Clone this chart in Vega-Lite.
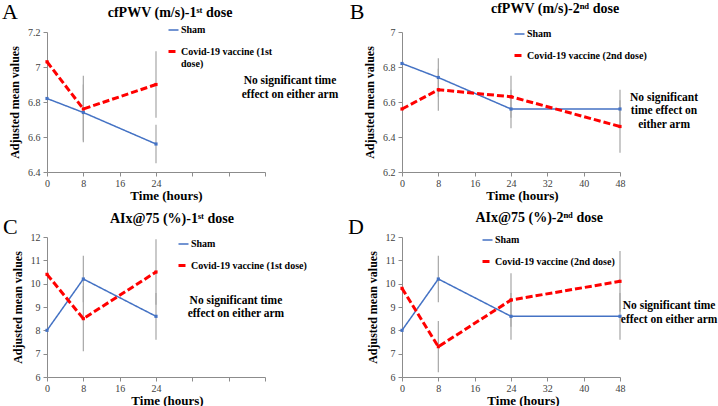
{
  "$schema": "https://vega.github.io/schema/vega-lite/v6.json",
  "padding": {"left": 2, "top": 1, "right": 0, "bottom": 0},
  "config": {
    "font": "Liberation Serif",
    "view": {"stroke": null},
    "axis": {"grid": false, "domainColor": "#8c8c8c", "tickColor": "#8c8c8c", "labelColor": "#404040", "labelFont": "Liberation Serif", "labelFontSize": 10, "titleFont": "Liberation Serif", "titleFontSize": 13, "titleFontWeight": "bold", "titleColor": "#000000", "tickSize": 4, "labelOverlap": false, "tickCount": 20},
    "legend": {"labelFont": "Liberation Serif", "labelFontWeight": "bold", "labelFontSize": 10, "labelColor": "#000000", "symbolType": "stroke", "symbolSize": 100, "rowPadding": 10, "padding": 0, "labelOffset": 1, "title": null, "orient": "none"},
    "text": {"font": "Liberation Serif", "color": "#000000"}
  },
  "datasets": {
    "lines": [
      {"panel": "A", "series": "Sham", "time": 0, "mean": 6.82, "lo": null, "hi": null},
      {"panel": "A", "series": "Sham", "time": 8, "mean": 6.74, "lo": 6.58, "hi": 6.90},
      {"panel": "A", "series": "Sham", "time": 24, "mean": 6.56, "lo": 6.45, "hi": 6.67},
      {"panel": "A", "series": "Covid-19 vaccine (1st dose)", "time": 0, "mean": 7.03, "lo": null, "hi": null},
      {"panel": "A", "series": "Covid-19 vaccine (1st dose)", "time": 8, "mean": 6.76, "lo": 6.57, "hi": 6.95},
      {"panel": "A", "series": "Covid-19 vaccine (1st dose)", "time": 24, "mean": 6.90, "lo": 6.71, "hi": 7.09},
      {"panel": "B", "series": "Sham", "time": 0, "mean": 6.82, "lo": null, "hi": null},
      {"panel": "B", "series": "Sham", "time": 8, "mean": 6.74, "lo": 6.63, "hi": 6.85},
      {"panel": "B", "series": "Sham", "time": 24, "mean": 6.56, "lo": 6.45, "hi": 6.67},
      {"panel": "B", "series": "Sham", "time": 48, "mean": 6.56, "lo": 6.45, "hi": 6.67},
      {"panel": "B", "series": "Covid-19 vaccine (2nd dose)", "time": 0, "mean": 6.56, "lo": null, "hi": null},
      {"panel": "B", "series": "Covid-19 vaccine (2nd dose)", "time": 8, "mean": 6.67, "lo": 6.55, "hi": 6.79},
      {"panel": "B", "series": "Covid-19 vaccine (2nd dose)", "time": 24, "mean": 6.63, "lo": 6.51, "hi": 6.75},
      {"panel": "B", "series": "Covid-19 vaccine (2nd dose)", "time": 48, "mean": 6.46, "lo": 6.31, "hi": 6.61},
      {"panel": "C", "series": "Sham", "time": 0, "mean": 8.0, "lo": null, "hi": null},
      {"panel": "C", "series": "Sham", "time": 8, "mean": 10.2, "lo": 9.2, "hi": 11.2},
      {"panel": "C", "series": "Sham", "time": 24, "mean": 8.6, "lo": 7.6, "hi": 9.6},
      {"panel": "C", "series": "Covid-19 vaccine (1st dose)", "time": 0, "mean": 10.4, "lo": null, "hi": null},
      {"panel": "C", "series": "Covid-19 vaccine (1st dose)", "time": 8, "mean": 8.5, "lo": 7.1, "hi": 9.9},
      {"panel": "C", "series": "Covid-19 vaccine (1st dose)", "time": 24, "mean": 10.5, "lo": 9.1, "hi": 11.9},
      {"panel": "D", "series": "Sham", "time": 0, "mean": 8.0, "lo": null, "hi": null},
      {"panel": "D", "series": "Sham", "time": 8, "mean": 10.2, "lo": 9.2, "hi": 11.2},
      {"panel": "D", "series": "Sham", "time": 24, "mean": 8.6, "lo": 7.6, "hi": 9.6},
      {"panel": "D", "series": "Sham", "time": 48, "mean": 8.6, "lo": 7.6, "hi": 9.6},
      {"panel": "D", "series": "Covid-19 vaccine (2nd dose)", "time": 0, "mean": 9.8, "lo": null, "hi": null},
      {"panel": "D", "series": "Covid-19 vaccine (2nd dose)", "time": 8, "mean": 7.3, "lo": 6.2, "hi": 8.4},
      {"panel": "D", "series": "Covid-19 vaccine (2nd dose)", "time": 24, "mean": 9.3, "lo": 8.15, "hi": 10.45},
      {"panel": "D", "series": "Covid-19 vaccine (2nd dose)", "time": 48, "mean": 10.1, "lo": 8.8, "hi": 11.4}
    ]
  },
  "columns": 2,
  "spacing": {"row": 65, "column": 137},
  "bounds": "flush",
  "resolve": {
    "scale": {"x": "independent", "y": "independent", "color": "independent", "strokeDash": "independent", "strokeWidth": "independent", "fill": "independent"},
    "legend": {"color": "independent", "strokeDash": "independent", "strokeWidth": "independent"}
  },
  "concat": [
    {
      "width": 218, "height": 140,
      "layer": [
        {
          "data": {"name": "lines"},
          "transform": [{"filter": "datum.panel === 'A' && isValid(datum.lo)"}],
          "mark": {"type": "rule", "color": "#A6A6A6", "strokeWidth": 1.2},
          "encoding": {
            "x": {"field": "time", "type": "quantitative", "scale": {"domain": [0, 48], "nice": false}, "axis": {"title": "Time (hours)", "values": [0, 8, 16, 24, 32, 40, 48], "tickCount": 20, "labelExpr": "datum.value <= 24 ? datum.label : ''", "labelPadding": 2, "titlePadding": 1, "titleX": 119, "labelFlush": false, "labelOverlap": false}},
            "y": {"field": "lo", "type": "quantitative", "title": "Adjusted mean values", "scale": {"domain": [6.4, 7.2], "nice": false, "zero": false}, "axis": {"values": [6.4, 6.6, 6.8, 7.0, 7.2], "tickCount": 20, "format": "~g", "titleFontSize": 12, "titlePadding": 6, "labelPadding": 3, "labelOverlap": false}},
            "y2": {"field": "hi"}
          }
        },
        {
          "data": {"name": "lines"},
          "transform": [{"filter": "datum.panel === 'A'"}],
          "mark": {"type": "line"},
          "encoding": {
            "x": {"field": "time", "type": "quantitative", "title": "Time (hours)"},
            "y": {"field": "mean", "type": "quantitative", "title": "Adjusted mean values"},
            "color": {"field": "series", "type": "nominal", "scale": {"domain": ["Sham", "Covid-19 vaccine (1st dose)"], "range": ["#4472C4", "#FF0000"]}, "legend": {"legendX": 120, "legendY": -8, "labelExpr": "indexof(datum.label, '1st') > 0 ? ['Covid-19 vaccine (1st', 'dose)'] : datum.label"}},
            "strokeDash": {"field": "series", "type": "nominal", "scale": {"domain": ["Sham", "Covid-19 vaccine (1st dose)"], "range": [[1, 0], [7, 3]]}, "legend": {"legendX": 120, "legendY": -8, "labelExpr": "indexof(datum.label, '1st') > 0 ? ['Covid-19 vaccine (1st', 'dose)'] : datum.label"}},
            "strokeWidth": {"field": "series", "type": "nominal", "scale": {"domain": ["Sham", "Covid-19 vaccine (1st dose)"], "range": [1.5, 3]}, "legend": {"legendX": 120, "legendY": -8, "labelExpr": "indexof(datum.label, '1st') > 0 ? ['Covid-19 vaccine (1st', 'dose)'] : datum.label"}}
          }
        },
        {
          "data": {"name": "lines"},
          "transform": [{"filter": "datum.panel === 'A'"}],
          "mark": {"type": "point", "filled": true, "shape": "square", "size": 10, "opacity": 1},
          "encoding": {
            "x": {"field": "time", "type": "quantitative", "title": "Time (hours)"},
            "y": {"field": "mean", "type": "quantitative", "title": "Adjusted mean values"},
            "fill": {"field": "series", "type": "nominal", "scale": {"domain": ["Sham", "Covid-19 vaccine (1st dose)"], "range": ["#4472C4", "#FF0000"]}, "legend": null}
          }
        },
        {
          "data": {"values": [{"note": "x"}]},
          "mark": {"type": "text", "text": ["No significant time", "effect on either arm"], "fontSize": 11.5, "fontWeight": "bold", "align": "center", "baseline": "middle", "lineHeight": 13.5},
          "encoding": {"x": {"datum": 53.5, "type": "quantitative"}, "y": {"datum": 6.92, "type": "quantitative"}}
        },
        {
          "data": {"values": [{"note": "x"}]},
          "mark": {"type": "text", "text": "A", "fontSize": 22, "align": "left", "baseline": "alphabetic"},
          "encoding": {"x": {"datum": -9.9, "type": "quantitative"}, "y": {"datum": 7.274, "type": "quantitative"}}
        },
        {
          "data": {"values": [{"note": "x"}]},
          "mark": {"type": "text", "text": "cfPWV (m/s)-1ˢᵗ dose", "fontSize": 14, "fontWeight": "bold", "align": "center", "baseline": "alphabetic"},
          "encoding": {"x": {"datum": 27.1, "type": "quantitative"}, "y": {"datum": 7.286, "type": "quantitative"}}
        }
      ]
    },
    {
      "width": 218, "height": 140,
      "layer": [
        {
          "data": {"name": "lines"},
          "transform": [{"filter": "datum.panel === 'B' && isValid(datum.lo)"}],
          "mark": {"type": "rule", "color": "#A6A6A6", "strokeWidth": 1.2},
          "encoding": {
            "x": {"field": "time", "type": "quantitative", "scale": {"domain": [0, 48], "nice": false}, "axis": {"title": "Time (hours)", "values": [0, 8, 16, 24, 32, 40, 48], "tickCount": 20, "labelPadding": 2, "titlePadding": 1, "titleX": 120, "labelFlush": false, "labelOverlap": false}},
            "y": {"field": "lo", "type": "quantitative", "title": "Adjusted mean values", "scale": {"domain": [6.2, 7.0], "nice": false, "zero": false}, "axis": {"values": [6.2, 6.4, 6.6, 6.8, 7.0], "tickCount": 20, "format": "~g", "titleFontSize": 12, "titlePadding": 6, "labelPadding": 3, "labelOverlap": false}},
            "y2": {"field": "hi"}
          }
        },
        {
          "data": {"name": "lines"},
          "transform": [{"filter": "datum.panel === 'B'"}],
          "mark": {"type": "line"},
          "encoding": {
            "x": {"field": "time", "type": "quantitative", "title": "Time (hours)"},
            "y": {"field": "mean", "type": "quantitative", "title": "Adjusted mean values"},
            "color": {"field": "series", "type": "nominal", "scale": {"domain": ["Sham", "Covid-19 vaccine (2nd dose)"], "range": ["#4472C4", "#FF0000"]}, "legend": {"legendX": 111, "legendY": -4}},
            "strokeDash": {"field": "series", "type": "nominal", "scale": {"domain": ["Sham", "Covid-19 vaccine (2nd dose)"], "range": [[1, 0], [7, 3]]}, "legend": {"legendX": 111, "legendY": -4}},
            "strokeWidth": {"field": "series", "type": "nominal", "scale": {"domain": ["Sham", "Covid-19 vaccine (2nd dose)"], "range": [1.5, 3]}, "legend": {"legendX": 111, "legendY": -4}}
          }
        },
        {
          "data": {"name": "lines"},
          "transform": [{"filter": "datum.panel === 'B'"}],
          "mark": {"type": "point", "filled": true, "shape": "square", "size": 10, "opacity": 1},
          "encoding": {
            "x": {"field": "time", "type": "quantitative", "title": "Time (hours)"},
            "y": {"field": "mean", "type": "quantitative", "title": "Adjusted mean values"},
            "fill": {"field": "series", "type": "nominal", "scale": {"domain": ["Sham", "Covid-19 vaccine (2nd dose)"], "range": ["#4472C4", "#FF0000"]}, "legend": null}
          }
        },
        {
          "data": {"values": [{"note": "x"}]},
          "mark": {"type": "text", "text": ["No significant", "time effect on", "either arm"], "fontSize": 11.5, "fontWeight": "bold", "align": "center", "baseline": "middle", "lineHeight": 13.5},
          "encoding": {"x": {"datum": 57.7, "type": "quantitative"}, "y": {"datum": 6.623, "type": "quantitative"}}
        },
        {
          "data": {"values": [{"note": "x"}]},
          "mark": {"type": "text", "text": "B", "fontSize": 22, "align": "left", "baseline": "alphabetic"},
          "encoding": {"x": {"datum": -11.5, "type": "quantitative"}, "y": {"datum": 7.074, "type": "quantitative"}}
        },
        {
          "data": {"values": [{"note": "x"}]},
          "mark": {"type": "text", "text": "cfPWV (m/s)-2ⁿᵈ dose", "fontSize": 14, "fontWeight": "bold", "align": "center", "baseline": "alphabetic"},
          "encoding": {"x": {"datum": 33.7, "type": "quantitative"}, "y": {"datum": 7.109, "type": "quantitative"}}
        }
      ]
    },
    {
      "width": 218, "height": 140,
      "layer": [
        {
          "data": {"name": "lines"},
          "transform": [{"filter": "datum.panel === 'C' && isValid(datum.lo)"}],
          "mark": {"type": "rule", "color": "#A6A6A6", "strokeWidth": 1.2},
          "encoding": {
            "x": {"field": "time", "type": "quantitative", "scale": {"domain": [0, 48], "nice": false}, "axis": {"title": "Time (hours)", "values": [0, 8, 16, 24, 32, 40, 48], "tickCount": 20, "labelExpr": "datum.value <= 24 ? datum.label : ''", "labelPadding": 2, "titlePadding": 1, "titleX": 120, "labelFlush": false, "labelOverlap": false}},
            "y": {"field": "lo", "type": "quantitative", "title": "Adjusted mean values", "scale": {"domain": [6, 12], "nice": false, "zero": false}, "axis": {"values": [6, 7, 8, 9, 10, 11, 12], "tickCount": 20, "format": "~g", "titleFontSize": 12, "titlePadding": 6, "labelPadding": 3, "labelOverlap": false}},
            "y2": {"field": "hi"}
          }
        },
        {
          "data": {"name": "lines"},
          "transform": [{"filter": "datum.panel === 'C'"}],
          "mark": {"type": "line"},
          "encoding": {
            "x": {"field": "time", "type": "quantitative", "title": "Time (hours)"},
            "y": {"field": "mean", "type": "quantitative", "title": "Adjusted mean values"},
            "color": {"field": "series", "type": "nominal", "scale": {"domain": ["Sham", "Covid-19 vaccine (1st dose)"], "range": ["#4472C4", "#FF0000"]}, "legend": {"legendX": 130, "legendY": 1}},
            "strokeDash": {"field": "series", "type": "nominal", "scale": {"domain": ["Sham", "Covid-19 vaccine (1st dose)"], "range": [[1, 0], [7, 3]]}, "legend": {"legendX": 130, "legendY": 1}},
            "strokeWidth": {"field": "series", "type": "nominal", "scale": {"domain": ["Sham", "Covid-19 vaccine (1st dose)"], "range": [1.5, 3]}, "legend": {"legendX": 130, "legendY": 1}}
          }
        },
        {
          "data": {"name": "lines"},
          "transform": [{"filter": "datum.panel === 'C'"}],
          "mark": {"type": "point", "filled": true, "shape": "square", "size": 10, "opacity": 1},
          "encoding": {
            "x": {"field": "time", "type": "quantitative", "title": "Time (hours)"},
            "y": {"field": "mean", "type": "quantitative", "title": "Adjusted mean values"},
            "fill": {"field": "series", "type": "nominal", "scale": {"domain": ["Sham", "Covid-19 vaccine (1st dose)"], "range": ["#4472C4", "#FF0000"]}, "legend": null}
          }
        },
        {
          "data": {"values": [{"note": "x"}]},
          "mark": {"type": "text", "text": ["No significant time", "effect on either arm"], "fontSize": 11.5, "fontWeight": "bold", "align": "center", "baseline": "middle", "lineHeight": 13.5},
          "encoding": {"x": {"datum": 41.6, "type": "quantitative"}, "y": {"datum": 9.26, "type": "quantitative"}}
        },
        {
          "data": {"values": [{"note": "x"}]},
          "mark": {"type": "text", "text": "C", "fontSize": 22, "align": "left", "baseline": "alphabetic"},
          "encoding": {"x": {"datum": -9.7, "type": "quantitative"}, "y": {"datum": 12.13, "type": "quantitative"}}
        },
        {
          "data": {"values": [{"note": "x"}]},
          "mark": {"type": "text", "text": "AIx@75 (%)-1ˢᵗ dose", "fontSize": 14, "fontWeight": "bold", "align": "center", "baseline": "alphabetic"},
          "encoding": {"x": {"datum": 27.5, "type": "quantitative"}, "y": {"datum": 12.6, "type": "quantitative"}}
        }
      ]
    },
    {
      "width": 218, "height": 140,
      "layer": [
        {
          "data": {"name": "lines"},
          "transform": [{"filter": "datum.panel === 'D' && isValid(datum.lo)"}],
          "mark": {"type": "rule", "color": "#A6A6A6", "strokeWidth": 1.2},
          "encoding": {
            "x": {"field": "time", "type": "quantitative", "scale": {"domain": [0, 48], "nice": false}, "axis": {"title": "Time (hours)", "values": [0, 8, 16, 24, 32, 40, 48], "tickCount": 20, "labelPadding": 2, "titlePadding": 1, "titleX": 121, "labelFlush": false, "labelOverlap": false}},
            "y": {"field": "lo", "type": "quantitative", "title": "Adjusted mean values", "scale": {"domain": [6, 12], "nice": false, "zero": false}, "axis": {"values": [6, 7, 8, 9, 10, 11, 12], "tickCount": 20, "format": "~g", "titleFontSize": 12, "titlePadding": 6, "labelPadding": 3, "labelOverlap": false}},
            "y2": {"field": "hi"}
          }
        },
        {
          "data": {"name": "lines"},
          "transform": [{"filter": "datum.panel === 'D'"}],
          "mark": {"type": "line"},
          "encoding": {
            "x": {"field": "time", "type": "quantitative", "title": "Time (hours)"},
            "y": {"field": "mean", "type": "quantitative", "title": "Adjusted mean values"},
            "color": {"field": "series", "type": "nominal", "scale": {"domain": ["Sham", "Covid-19 vaccine (2nd dose)"], "range": ["#4472C4", "#FF0000"]}, "legend": {"legendX": 79, "legendY": -3}},
            "strokeDash": {"field": "series", "type": "nominal", "scale": {"domain": ["Sham", "Covid-19 vaccine (2nd dose)"], "range": [[1, 0], [7, 3]]}, "legend": {"legendX": 79, "legendY": -3}},
            "strokeWidth": {"field": "series", "type": "nominal", "scale": {"domain": ["Sham", "Covid-19 vaccine (2nd dose)"], "range": [1.5, 3]}, "legend": {"legendX": 79, "legendY": -3}}
          }
        },
        {
          "data": {"name": "lines"},
          "transform": [{"filter": "datum.panel === 'D'"}],
          "mark": {"type": "point", "filled": true, "shape": "square", "size": 10, "opacity": 1},
          "encoding": {
            "x": {"field": "time", "type": "quantitative", "title": "Time (hours)"},
            "y": {"field": "mean", "type": "quantitative", "title": "Adjusted mean values"},
            "fill": {"field": "series", "type": "nominal", "scale": {"domain": ["Sham", "Covid-19 vaccine (2nd dose)"], "range": ["#4472C4", "#FF0000"]}, "legend": null}
          }
        },
        {
          "data": {"values": [{"note": "x"}]},
          "mark": {"type": "text", "text": ["No significant time", "effect on either arm"], "fontSize": 11.5, "fontWeight": "bold", "align": "center", "baseline": "middle", "lineHeight": 13.5},
          "encoding": {"x": {"datum": 58.8, "type": "quantitative"}, "y": {"datum": 9.04, "type": "quantitative"}}
        },
        {
          "data": {"values": [{"note": "x"}]},
          "mark": {"type": "text", "text": "D", "fontSize": 22, "align": "left", "baseline": "alphabetic"},
          "encoding": {"x": {"datum": -11.9, "type": "quantitative"}, "y": {"datum": 12.13, "type": "quantitative"}}
        },
        {
          "data": {"values": [{"note": "x"}]},
          "mark": {"type": "text", "text": "AIx@75 (%)-2ⁿᵈ dose", "fontSize": 14, "fontWeight": "bold", "align": "center", "baseline": "alphabetic"},
          "encoding": {"x": {"datum": 30.2, "type": "quantitative"}, "y": {"datum": 12.64, "type": "quantitative"}}
        }
      ]
    }
  ]
}
